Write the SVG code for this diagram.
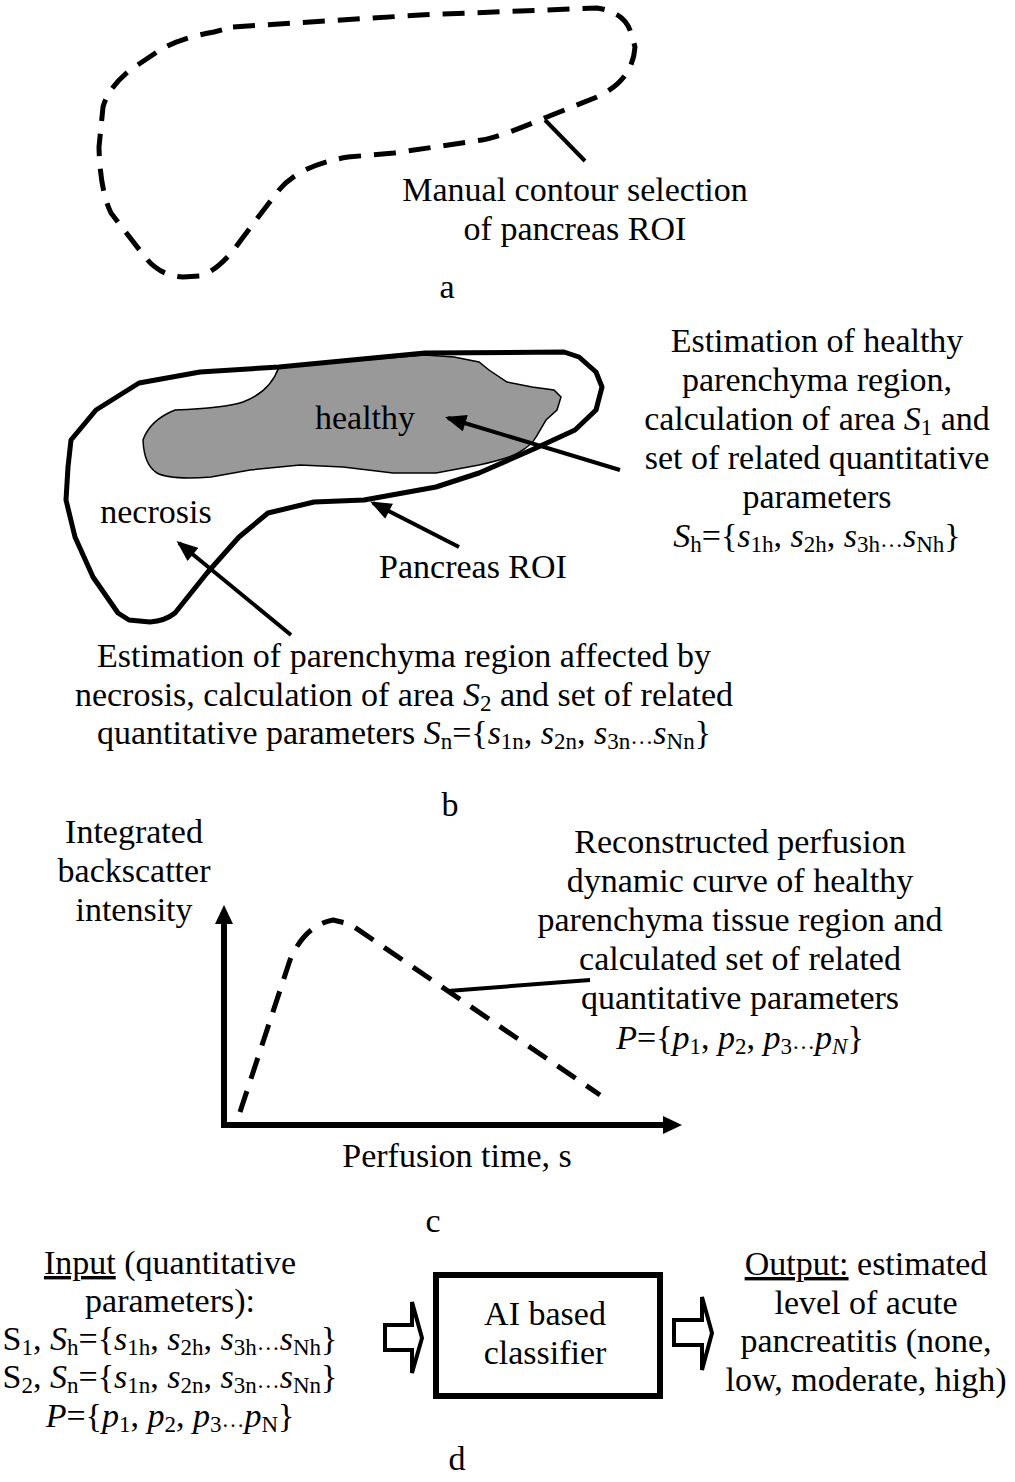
<svg xmlns="http://www.w3.org/2000/svg" width="1015" height="1482" viewBox="0 0 1015 1482">
<style>
text{font-family:"Liberation Serif","Times New Roman",serif;font-size:34px;fill:#000}
.c{text-anchor:middle}
.i{font-style:italic}
.s{font-size:23px}
.dash{fill:none;stroke:#000;stroke-width:5;stroke-dasharray:22 13;stroke-linejoin:round}
.solid{fill:none;stroke:#000;stroke-width:5;stroke-linejoin:round}
.lead{fill:none;stroke:#000;stroke-width:4}
.ax{fill:none;stroke:#000;stroke-width:6}
</style>
<defs>
<marker id="ah" viewBox="0 0 20 16" markerUnits="userSpaceOnUse" markerWidth="22" markerHeight="17" refX="17" refY="8" orient="auto">
<path d="M0,0 L20,8 L0,16 z" fill="#000"/>
</marker>
</defs>
<rect width="1015" height="1482" fill="#fff"/>

<g id="panel-a">
<path class="dash" d="M233,27 L420,15 L597,8 Q625,12 631,33 L635,47 Q633,80 597,97 L547,117 Q500,137 482,140 L394,153 L348,157 Q300,165 279,190 L256,220 L241,240 Q220,270 200,276 L183,277 Q160,276 145,257 L111,213 Q100,190 99,147 L103,107 Q108,88 130,70 L160,50 Q180,38 214,32 Z"/>
<line class="lead" x1="545" y1="120" x2="585" y2="161"/>
<text class="c" x="575" y="201">Manual contour selection</text>
<text class="c" x="575" y="240">of pancreas ROI</text>
<text class="c" x="447" y="298">a</text>
</g>

<g id="panel-b">
<path d="M279,367 Q270,392 243,402 Q225,408 175,410 Q150,420 143,440 Q144,465 157,473 Q170,480 211,477 L250,470 L300,465 L343,467 L393,473 L436,473 L479,465 Q510,458 518,453 Q532,445 536,437 L546,420 L557,410 L561,397 L554,390 L532,387 L507,382 L489,370 L479,362 L454,357 L425,355 Z" fill="#999" stroke="#000" stroke-width="1.5"/>
<path class="solid" d="M71,440 L96,410 L139,383 L200,372 L279,367 L425,353 L564,352 L579,357 L596,372 L602,387 L596,410 L575,430 L536,448 L479,473 L436,487 L364,500 L314,502 L268,513 L239,537 L207,573 L175,613 Q165,621 150,622 L129,620 L118,613 L93,577 L75,537 L66,500 L68,467 Z"/>
<text class="c" x="365" y="429">healthy</text>
<text class="c" x="156" y="523">necrosis</text>
<text class="c" x="473" y="578">Pancreas ROI</text>
<text class="c" x="817" y="352">Estimation of healthy</text>
<text class="c" x="817" y="391">parenchyma region,</text>
<text class="c" x="817" y="430">calculation of area <tspan class="i">S</tspan><tspan class="s" dy="5">1</tspan><tspan dy="-5"> and</tspan></text>
<text class="c" x="817" y="469">set of related quantitative</text>
<text class="c" x="817" y="508">parameters</text>
<text class="c" x="817" y="547"><tspan class="i">S</tspan><tspan class="s" dy="5">h</tspan><tspan dy="-5">={</tspan><tspan class="i">s</tspan><tspan class="s" dy="5">1h</tspan><tspan dy="-5">, </tspan><tspan class="i">s</tspan><tspan class="s" dy="5">2h</tspan><tspan dy="-5">, </tspan><tspan class="i">s</tspan><tspan class="s" dy="5">3h</tspan><tspan class="s" dy="-5">…</tspan><tspan class="i">s</tspan><tspan class="s" dy="5">Nh</tspan><tspan dy="-5">}</tspan></text>
<text class="c" x="404" y="667">Estimation of parenchyma region affected by</text>
<text class="c" x="404" y="706">necrosis, calculation of area <tspan class="i">S</tspan><tspan class="s" dy="5">2</tspan><tspan dy="-5"> and set of related</tspan></text>
<text class="c" x="404" y="744">quantitative parameters <tspan class="i">S</tspan><tspan class="s" dy="5">n</tspan><tspan dy="-5">={</tspan><tspan class="i">s</tspan><tspan class="s" dy="5">1n</tspan><tspan dy="-5">, </tspan><tspan class="i">s</tspan><tspan class="s" dy="5">2n</tspan><tspan dy="-5">, </tspan><tspan class="i">s</tspan><tspan class="s" dy="5">3n</tspan><tspan class="s" dy="-5">…</tspan><tspan class="i">s</tspan><tspan class="s" dy="5">Nn</tspan><tspan dy="-5">}</tspan></text>
<text class="c" x="450" y="816">b</text>
</g>

<g id="panel-c">
<line class="ax" x1="224" y1="1125" x2="224" y2="918"/>
<polygon points="224,905 215,924 233,924" fill="#000"/>
<line class="ax" x1="221" y1="1125" x2="666" y2="1125"/>
<polygon points="682,1125 663,1116 663,1134" fill="#000"/>
<path class="dash" d="M240,1112 L290,960 Q305,925 333,920 L350,924 L600,1095"/>
<line class="lead" x1="448" y1="991" x2="590" y2="980" stroke-width="3"/>
<text class="c" x="134" y="843">Integrated</text>
<text class="c" x="134" y="882">backscatter</text>
<text class="c" x="134" y="921">intensity</text>
<text class="c" x="740" y="853">Reconstructed perfusion</text>
<text class="c" x="740" y="892">dynamic curve of healthy</text>
<text class="c" x="740" y="931">parenchyma tissue region and</text>
<text class="c" x="740" y="970">calculated set of related</text>
<text class="c" x="740" y="1009">quantitative parameters</text>
<text class="c" x="740" y="1049"><tspan class="i">P</tspan>={<tspan class="i">p</tspan><tspan class="s" dy="5">1</tspan><tspan dy="-5">, </tspan><tspan class="i">p</tspan><tspan class="s" dy="5">2</tspan><tspan dy="-5">, </tspan><tspan class="i">p</tspan><tspan class="s" dy="5">3</tspan><tspan class="s" dy="-5">…</tspan><tspan class="i">p</tspan><tspan class="s i" dy="5">N</tspan><tspan dy="-5">}</tspan></text>
<text class="c" x="457" y="1167">Perfusion time, s</text>
<text class="c" x="433" y="1232">c</text>
</g>

<g id="panel-d">
<text class="c" x="170" y="1274"><tspan text-decoration="underline">Input</tspan> (quantitative</text>
<text class="c" x="170" y="1312">parameters):</text>
<text class="c" x="170" y="1350">S<tspan class="s" dy="5">1</tspan><tspan dy="-5">, </tspan><tspan class="i">S</tspan><tspan class="s" dy="5">h</tspan><tspan dy="-5">={</tspan><tspan class="i">s</tspan><tspan class="s" dy="5">1h</tspan><tspan dy="-5">, </tspan><tspan class="i">s</tspan><tspan class="s" dy="5">2h</tspan><tspan dy="-5">, </tspan><tspan class="i">s</tspan><tspan class="s" dy="5">3h</tspan><tspan class="s" dy="-5">…</tspan><tspan class="i">s</tspan><tspan class="s" dy="5">Nh</tspan><tspan dy="-5">}</tspan></text>
<text class="c" x="170" y="1388">S<tspan class="s" dy="5">2</tspan><tspan dy="-5">, </tspan><tspan class="i">S</tspan><tspan class="s" dy="5">n</tspan><tspan dy="-5">={</tspan><tspan class="i">s</tspan><tspan class="s" dy="5">1n</tspan><tspan dy="-5">, </tspan><tspan class="i">s</tspan><tspan class="s" dy="5">2n</tspan><tspan dy="-5">, </tspan><tspan class="i">s</tspan><tspan class="s" dy="5">3n</tspan><tspan class="s" dy="-5">…</tspan><tspan class="i">s</tspan><tspan class="s" dy="5">Nn</tspan><tspan dy="-5">}</tspan></text>
<text class="c" x="170" y="1427"><tspan class="i">P</tspan>={<tspan class="i">p</tspan><tspan class="s" dy="5">1</tspan><tspan dy="-5">, </tspan><tspan class="i">p</tspan><tspan class="s" dy="5">2</tspan><tspan dy="-5">, </tspan><tspan class="i">p</tspan><tspan class="s" dy="5">3</tspan><tspan class="s" dy="-5">…</tspan><tspan class="i">p</tspan><tspan class="s" dy="5">N</tspan><tspan dy="-5">}</tspan></text>
<g id="classifier">
<rect x="436" y="1275" width="224" height="121" fill="none" stroke="#000" stroke-width="6"/>
<text class="c" x="545" y="1325">AI based</text>
<text class="c" x="545" y="1364">classifier</text>
</g>
<text class="c" x="866" y="1275"><tspan text-decoration="underline">Output:</tspan> estimated</text>
<text class="c" x="866" y="1314">level of acute</text>
<text class="c" x="866" y="1352">pancreatitis (none,</text>
<text class="c" x="866" y="1391">low, moderate, high)</text>
<text class="c" x="457" y="1470">d</text>
</g>

<g id="connectors">
<line class="lead" x1="620" y1="470" x2="448" y2="418" marker-end="url(#ah)"/>
<line class="lead" x1="459" y1="547" x2="373" y2="503" marker-end="url(#ah)"/>
<line class="lead" x1="291" y1="635" x2="179" y2="543" marker-end="url(#ah)"/>
<polygon points="385,1325 412,1325 412,1302 422,1338 412,1373 412,1350 385,1350" fill="#fff" stroke="#000" stroke-width="4" stroke-linejoin="miter"/>
<polygon points="674,1320 702,1320 702,1297 712,1333 702,1370 702,1345 674,1345" fill="#fff" stroke="#000" stroke-width="4" stroke-linejoin="miter"/>
</g>
</svg>
